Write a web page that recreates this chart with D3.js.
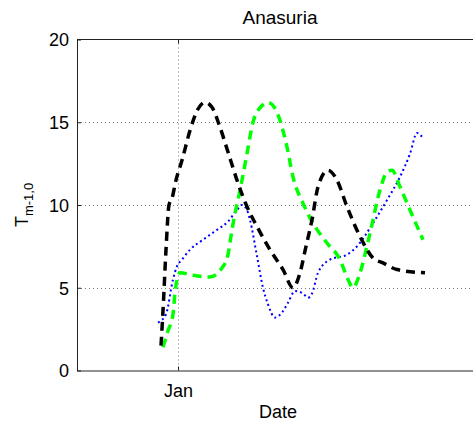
<!DOCTYPE html>
<html>
<head>
<meta charset="utf-8">
<script src="https://cdn.jsdelivr.net/npm/d3@7"></script>
<style>
  body { margin: 0; background: #fff; }
  text { font-family: "Liberation Sans", Arial, sans-serif; }
</style>
</head>
<body>
<div id="chart"></div>
<script>
// days relative to 1 Jan
var blackDays = [-1.7, -1.5, -1.2, -0.9, -0.6, -0.2, 0.4, 1.2, 2.0, 2.7, 3.4, 4.2, 5.0, 5.9, 6.9, 7.9, 9.2, 10.5, 11.5, 12.2, 12.8, 13.4, 14.0, 15.0, 15.9, 16.9, 18.2, 19.5, 20.5, 21.9, 24.7];
var blackVals = [1.5, 3.6, 7.3, 10.0, 10.4, 11.5, 12.7, 14.5, 15.8, 16.2, 15.9, 14.7, 13.2, 11.5, 9.9, 8.7, 7.3, 6.1, 5.0, 5.9, 7.5, 9.1, 11.1, 12.1, 11.5, 9.9, 8.1, 6.8, 6.5, 6.1, 5.9];

var greenDays = [-1.5, -1.0, -0.5, -0.3, -0.1, 0.2, 1.5, 3.2, 4.4, 5.0, 5.4, 5.7, 6.0, 6.4, 6.9, 7.5, 8.4, 9.0, 9.9, 10.9, 11.5, 12.5, 13.5, 14.9, 16.2, 17.0, 17.5, 18.2, 19.2, 20.2, 20.9, 21.4, 22.2, 23.2, 24.5];
var greenVals = [1.4, 2.4, 3.4, 4.7, 5.5, 5.9, 5.75, 5.65, 6.2, 7.0, 8.5, 9.5, 10.3, 11.5, 13.1, 15.0, 16.0, 16.2, 15.6, 13.5, 11.7, 10.1, 8.9, 7.7, 6.7, 5.5, 5.0, 5.9, 8.3, 10.9, 12.0, 12.1, 11.1, 9.7, 7.9];

var blueDays = [-2.0, -1.2, -0.5, -0.1, 0.4, 1.2, 2.5, 3.9, 5.0, 5.9, 6.4, 6.9, 7.2, 7.9, 8.5, 9.0, 9.7, 10.4, 11.0, 11.7, 12.5, 13.0, 13.4, 14.0, 15.2, 16.9, 17.9, 19.5, 20.9, 22.2, 23.2, 23.9, 24.5];
var blueVals = [2.9, 3.4, 5.5, 6.3, 6.7, 7.3, 7.9, 8.5, 9.0, 9.7, 10.0, 9.7, 9.1, 6.9, 5.0, 4.0, 3.2, 3.5, 4.1, 4.8, 4.65, 4.4, 4.65, 5.9, 6.7, 7.0, 7.5, 8.9, 10.3, 11.7, 13.1, 14.35, 14.05];

var yTicks = [0, 5, 10, 15, 20];

var jan1 = new Date(2011, 0, 1);
function toDate(d) {
  return new Date(jan1.getTime() + d * 864e5);
}

function chart() {
  var w = 473, h = 421;
  var left = 77, right = 483, plotTop = 39.5, plotBottom = 370.5;

  var svg = d3.select('#chart').append('svg')
    .attr('width', w).attr('height', h);

  var x = d3.scaleTime()
    .domain([toDate(-10.1), toDate(30.5)])
    .range([left, right]);
  var y = d3.scaleLinear()
    .domain([0, 20])
    .range([plotBottom, plotTop]);

  var xTicks = x.ticks(d3.timeMonth.every(1));

  // grid
  svg.append('g').selectAll('line')
    .data(yTicks.filter(function(d) { return d > 0 && d < 20; }))
    .enter().append('line')
    .attr('x1', left).attr('x2', right)
    .attr('y1', function(d) { return Math.round(y(d)) + 0.5; })
    .attr('y2', function(d) { return Math.round(y(d)) + 0.5; })
    .attr('stroke', '#777').attr('stroke-dasharray', '1,3');

  svg.append('g').selectAll('line')
    .data(xTicks)
    .enter().append('line')
    .attr('x1', function(d) { return Math.round(x(d)) + 0.5; })
    .attr('x2', function(d) { return Math.round(x(d)) + 0.5; })
    .attr('y1', plotTop).attr('y2', plotBottom)
    .attr('stroke', '#777').attr('stroke-dasharray', '1,3');

  // axes (ticks pointing inward like matlab)
  var yAxis = d3.axisLeft(y).tickValues(yTicks).tickSizeInner(-4).tickSizeOuter(0).tickPadding(8);
  var xAxis = d3.axisBottom(x).tickValues(xTicks).tickFormat(d3.timeFormat('%b'))
    .tickSizeInner(-4).tickSizeOuter(0).tickPadding(14);

  var gy = svg.append('g').attr('transform', 'translate(' + left + ',0)').call(yAxis);
  var gx = svg.append('g').attr('transform', 'translate(0,' + plotBottom + ')').call(xAxis);
  [gy, gx].forEach(function(g) {
    g.select('.domain').attr('stroke', '#222');
    g.selectAll('.tick line').attr('stroke', '#222');
    g.selectAll('.tick text')
      .attr('font-family', '"Liberation Sans", Arial, sans-serif')
      .attr('font-size', '18px').attr('fill', '#000');
  });
  gy.selectAll('.tick text').attr('dy', '0.36em');

  // top + right frame
  svg.append('line').attr('x1', left).attr('x2', right).attr('y1', plotTop).attr('y2', plotTop).attr('stroke', '#222');
  svg.append('line').attr('x1', right).attr('x2', right).attr('y1', plotTop).attr('y2', plotBottom).attr('stroke', '#222');
  svg.append('g').selectAll('line')
    .data(xTicks)
    .enter().append('line')
    .attr('x1', function(d) { return Math.round(x(d)) + 0.5; })
    .attr('x2', function(d) { return Math.round(x(d)) + 0.5; })
    .attr('y1', plotTop).attr('y2', plotTop + 4)
    .attr('stroke', '#222');

  // series
  var line = d3.line()
    .x(function(d) { return x(toDate(d[0])); })
    .y(function(d) { return y(d[1]); })
    .curve(d3.curveMonotoneX);

  function pairs(a, b) {
    return a.map(function(d, i) { return [d, b[i]]; });
  }

  svg.append('path').datum(pairs(blueDays, blueVals))
    .attr('d', line).attr('fill', 'none')
    .attr('stroke', '#0000ff').attr('stroke-width', 2)
    .attr('stroke-dasharray', '2,3');

  svg.append('path').datum(pairs(greenDays, greenVals))
    .attr('d', line).attr('fill', 'none')
    .attr('stroke', '#00ff00').attr('stroke-width', 3.5)
    .attr('stroke-dasharray', '9,6');

  svg.append('path').datum(pairs(blackDays, blackVals))
    .attr('d', line).attr('fill', 'none')
    .attr('stroke', '#000').attr('stroke-width', 3.5)
    .attr('stroke-dasharray', '9,6');

  // labels
  svg.append('text')
    .attr('x', 280).attr('y', 24)
    .attr('text-anchor', 'middle')
    .attr('font-size', '19px')
    .text('Anasuria');

  svg.append('text')
    .attr('x', 278).attr('y', 418)
    .attr('text-anchor', 'middle')
    .attr('font-size', '18px')
    .text('Date');

  var yl = svg.append('text')
    .attr('transform', 'translate(28,205) rotate(-90)')
    .attr('text-anchor', 'middle')
    .attr('font-size', '18px');
  yl.append('tspan').text('T');
  yl.append('tspan').attr('font-size', '13px').attr('dy', '5').text('m-1,0');
}

chart();
</script>
</body>
</html>
